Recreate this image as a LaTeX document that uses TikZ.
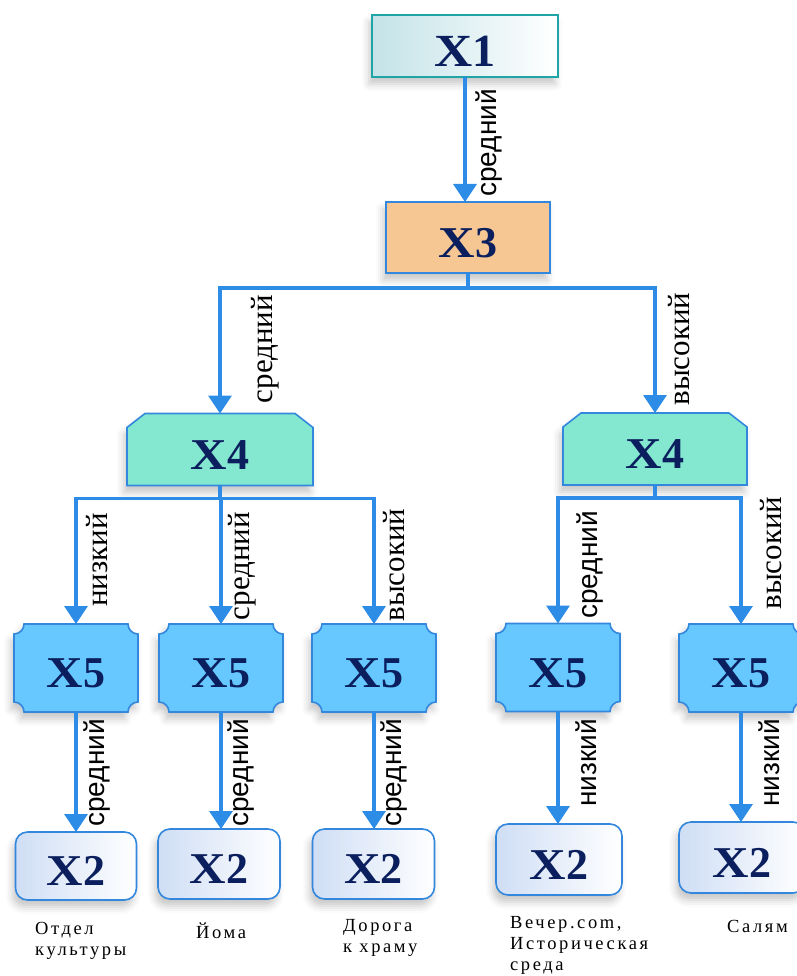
\documentclass[tikz,border=0pt]{standalone}
\usepackage{fontspec}
\usepackage{graphicx}
\setmainfont{Liberation Serif}
\newfontfamily\labsans{Liberation Sans}
\newfontfamily\capserif[LetterSpace=14]{Liberation Serif}
\usetikzlibrary{arrows.meta,calc,shadows.blur,backgrounds}

\definecolor{arrowblue}{HTML}{2D8CE6}
\definecolor{boxedge}{HTML}{3388DD}
\definecolor{navy}{HTML}{0B1F5E}
\definecolor{xoneedge}{HTML}{1FA5A8}
\definecolor{xonefill}{HTML}{C4E3E8}
\definecolor{xthreefill}{HTML}{F7C793}
\definecolor{xfourfill}{HTML}{84E8D0}
\definecolor{xfivefill}{HTML}{66C8FF}
\definecolor{xtwofill}{HTML}{CFDEF5}

\tikzset{
  softshadow/.style={blur shadow={shadow xshift=-3pt, shadow yshift=-7pt,
      shadow opacity=22, shadow blur radius=7pt}},
  arr/.style={draw=arrowblue, line width=3.2pt,
      -{Triangle[width=23pt,length=18pt]}},
  varname/.style={text=navy, inner sep=0pt, outer sep=0pt, text depth=0pt},
  bigx/.style={varname, font=\bfseries\fontsize{44}{44}\selectfont, text height=39pt},
  boxone/.style={varname, font=\bfseries\fontsize{46}{46}\selectfont, text height=41pt,
      minimum width=186pt, minimum height=62pt, draw=xoneedge, line width=1.6pt,
      left color=xonefill, right color=white, softshadow},
  boxthree/.style={bigx, minimum width=164pt, minimum height=71pt,
      draw=boxedge, line width=1.6pt, fill=xthreefill, softshadow},
  boxfour/.style={bigx, minimum width=186pt, minimum height=72pt},
  boxfive/.style={bigx, minimum width=124pt, minimum height=88pt},
  boxtwo/.style={bigx, minimum width=122pt, minimum height=70pt,
      rounded corners=12pt, draw=boxedge, line width=1.6pt,
      left color=xtwofill, right color=white, softshadow},
  fourshape/.style={draw=boxedge, line width=1.6pt, fill=xfourfill, softshadow},
  fiveshape/.style={draw=boxedge, line width=1.6pt, fill=xfivefill, softshadow},
  edgesans/.style={font=\labsans\fontsize{28}{28}\selectfont, rotate=90,
      anchor=north, inner sep=0pt},
  edgeserif/.style={font=\fontsize{31}{31}\selectfont, rotate=90,
      anchor=north, inner sep=0pt},
  caption/.style={font=\capserif\fontsize{18.5}{21}\selectfont, align=left,
      anchor=base west, inner sep=0pt},
}
\newcommand\wideX[1]{\scalebox{1.15}[1]{X}#1}

\begin{document}
\begin{tikzpicture}[x=1pt, y=-1pt]
\useasboundingbox (0,0) rectangle (796,976);

% ---- variable boxes ----
\node[boxone]   (x1)  at (465,46)    {\wideX{1}};
\node[boxthree] (x3)  at (468,237.5) {\wideX{3}};
\node[boxfour]  (x4a) at (220,449.5) {\wideX{4}};
\node[boxfour, minimum width=184pt] (x4b) at (655,449) {\wideX{4}};

\node[boxfive] (e1) at (76,668)    {\wideX{5}};
\node[boxfive] (e2) at (221,668)   {\wideX{5}};
\node[boxfive] (e3) at (374,668)   {\wideX{5}};
\node[boxfive] (e4) at (558,667.5) {\wideX{5}};
\node[boxfive] (e5) at (741,668)   {\wideX{5}};

\node[boxtwo, minimum width=121pt, minimum height=68pt] (d1) at (76,866) {\wideX{2}};
\node[boxtwo] (d2) at (219,864) {\wideX{2}};
\node[boxtwo] (d3) at (373.5,864) {\wideX{2}};
\node[boxtwo, minimum width=126pt, minimum height=71pt] (d4) at (559,859.5) {\wideX{2}};
\node[boxtwo, minimum width=126pt, minimum height=71pt] (d5) at (742,857.5) {\wideX{2}};

% ---- outlines of the shaped boxes ----
\begin{scope}[on background layer]
  \foreach \n in {x4a,x4b}{
    \path[fourshape] (\n.south west) -- ($(\n.north west)+(0,14)$)
      -- ($(\n.north west)+(18,0)$) -- ($(\n.north east)+(-18,0)$)
      -- ($(\n.north east)+(0,14)$) -- (\n.south east) -- cycle;
  }
  \foreach \n in {e1,e2,e3,e4,e5}{
    \path[fiveshape] ($(\n.north west)+(10,0)$) -- ($(\n.north east)+(-10,0)$)
      arc[start angle=180, end angle=270, radius=10pt]
      -- ($(\n.south east)+(0,-10)$)
      arc[start angle=90, end angle=180, radius=10pt]
      -- ($(\n.south west)+(10,0)$)
      arc[start angle=0, end angle=90, radius=10pt]
      -- ($(\n.north west)+(0,10)$)
      arc[start angle=270, end angle=360, radius=10pt] -- cycle;
  }
\end{scope}

% ---- connectors ----
\draw[arr] (x1.south) -- (x1.south |- x3.north);
\draw[arr] (x3.south) -- ++(0,15) -| (x4a.north);
\draw[arr] (x3.south) -- ++(0,15) -| (x4b.north);
\draw[arr] (x4a.south) -- ++(0,13) -| (e1.north);
\draw[arr] (x4a.south) -- ++(0,13) -| (e2.north);
\draw[arr] (x4a.south) -- ++(0,13) -| (e3.north);
\draw[arr] (x4b.south) -- ++(0,13) -| (e4.north);
\draw[arr] (x4b.south) -- ++(0,13) -| (e5.north);
\foreach \i in {1,...,5}{
  \draw[arr] (e\i.south) -- (e\i.south |- d\i.north);
}

% ---- edge labels ----
\node[edgesans]  (l13)  at (476,143) {средний};
\node[edgeserif] (l34a) at (251,349) {средний};
\node[edgeserif] (l34b) at (668,349) {высокий};
\node[edgeserif] (l45a) at (86,560)  {низкий};
\node[edgeserif] (l45b) at (228,566) {средний};
\node[edgeserif] (l45c) at (383,565) {высокий};
\node[edgesans]  (l45d) at (577,565) {средний};
\node[edgeserif] (l45e) at (760,553) {высокий};
\node[edgesans]  (l52a) at (84,773)  {средний};
\node[edgesans]  (l52b) at (228,773) {средний};
\node[edgesans]  (l52c) at (381,773) {средний};
\node[edgesans]  (l52d) at (576,763) {низкий};
\node[edgesans]  (l52e) at (759,763) {низкий};

% ---- captions under the bottom row (anchored at the last line) ----
\node[caption] (c1) at (35,955)  {Отдел\\культуры};
\node[caption] (c2) at (196,938) {Йома};
\node[caption] (c3) at (343,952) {Дорога\\к храму};
\node[caption] (c4) at (510,970) {Вечер.com,\\Историческая\\среда};
\node[caption] (c5) at (727,932) {Салям};
\end{tikzpicture}
\end{document}
